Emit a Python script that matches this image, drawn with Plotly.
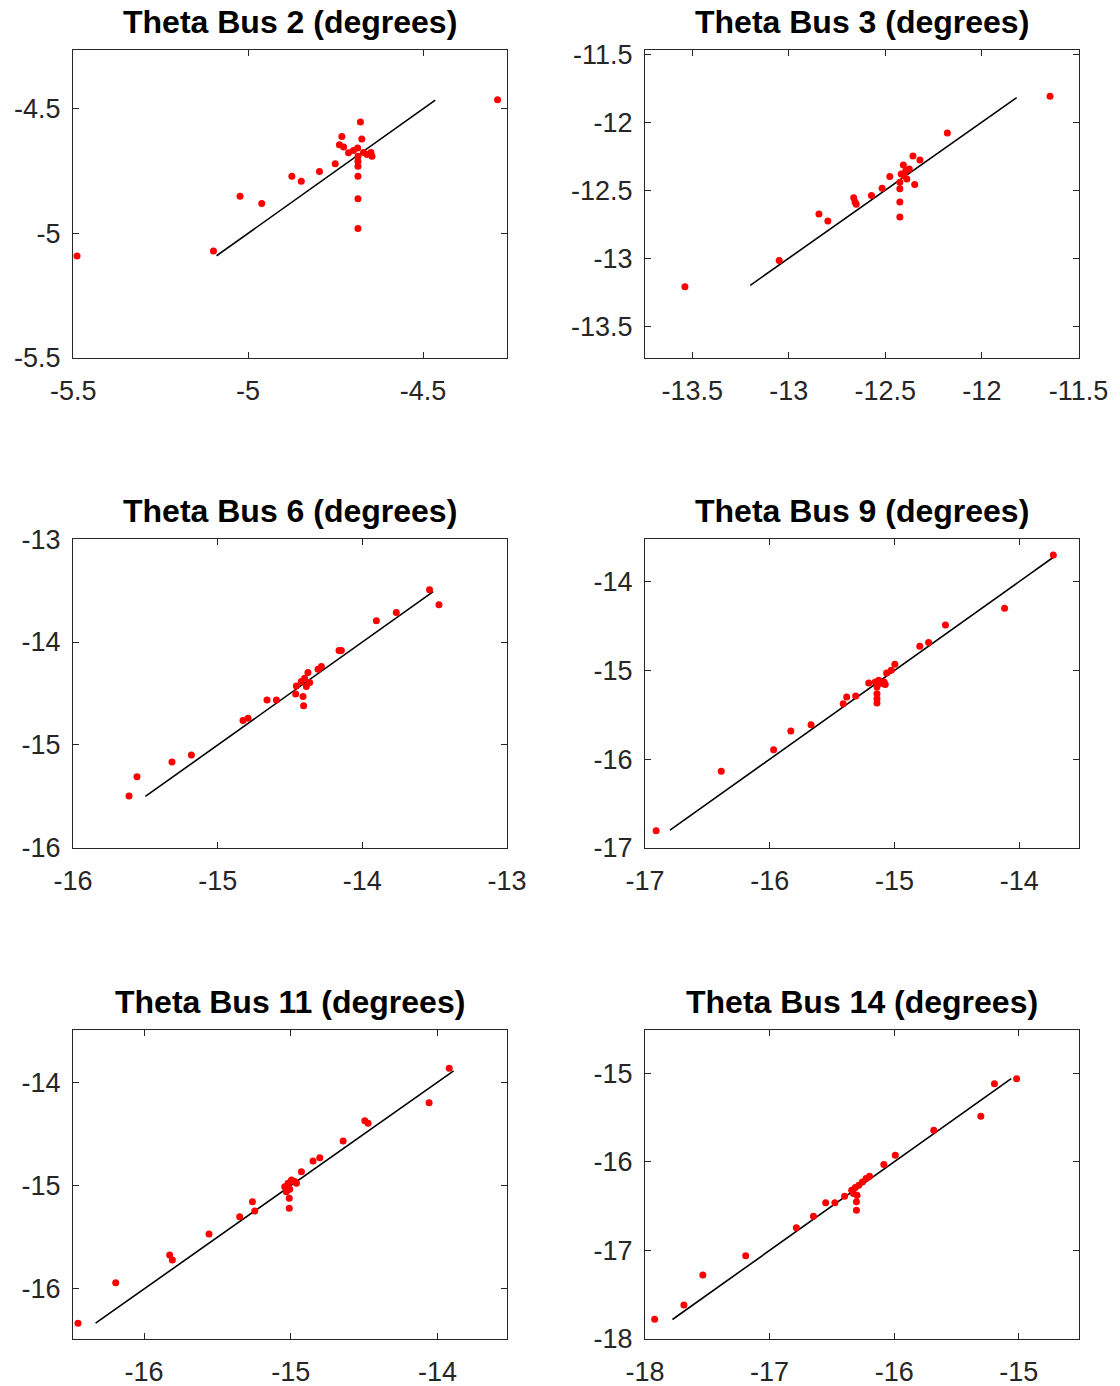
import plotly.graph_objects as go

# ---------------- data ----------------
titles = ["Theta Bus 2 (degrees)", "Theta Bus 3 (degrees)", "Theta Bus 6 (degrees)",
          "Theta Bus 9 (degrees)", "Theta Bus 11 (degrees)", "Theta Bus 14 (degrees)"]

bus2_x = [-5.489, -5.099, -5.023, -4.961, -4.875, -4.848, -4.796, -4.751, -4.732, -4.739,
          -4.727, -4.679, -4.675, -4.713, -4.699, -4.687, -4.670, -4.649, -4.646, -4.660,
          -4.686, -4.686, -4.686, -4.686, -4.686, -4.686, -4.287]
bus2_y = [-5.091, -5.071, -4.851, -4.880, -4.771, -4.791, -4.752, -4.721, -4.611, -4.644,
          -4.653, -4.553, -4.621, -4.677, -4.667, -4.657, -4.675, -4.675, -4.691, -4.684,
          -4.691, -4.711, -4.731, -4.771, -4.861, -4.981, -4.464]
bus2_fit = [-5.09, -4.465]

bus3_x = [-13.538, -13.05, -12.844, -12.798, -12.664, -12.657, -12.651, -12.572, -12.517,
          -12.477, -12.425, -12.425, -12.425, -12.425, -12.418, -12.407, -12.394, -12.389,
          -12.376, -12.403, -12.357, -12.348, -12.321, -12.179, -11.647]
bus3_y = [-13.21, -13.017, -12.676, -12.727, -12.556, -12.587, -12.604, -12.539, -12.486,
          -12.399, -12.587, -12.698, -12.49, -12.442, -12.382, -12.316, -12.357, -12.418,
          -12.345, -12.394, -12.249, -12.459, -12.278, -12.08, -11.81]
bus3_fit = [-13.2, -11.82]

bus6_x = [-15.613, -15.558, -15.316, -15.182, -14.825, -14.79, -14.659, -14.594, -14.456,
          -14.461, -14.41, -14.406, -14.422, -14.399, -14.376, -14.364, -14.387, -14.306,
          -14.283, -14.161, -14.145, -13.903, -13.765, -13.535, -13.47]
bus6_y = [-15.496, -15.308, -15.165, -15.097, -14.763, -14.74, -14.562, -14.562, -14.426,
          -14.504, -14.53, -14.62, -14.384, -14.352, -14.297, -14.394, -14.433, -14.264,
          -14.238, -14.083, -14.083, -13.794, -13.713, -13.493, -13.639]
bus6_fit = [-15.5, -13.51]

bus9_x = [-16.911, -16.389, -15.969, -15.831, -15.669, -15.411, -15.383, -15.311, -15.206,
          -15.154, -15.126, -15.097, -15.14, -15.083, -15.074, -15.14, -15.14, -15.14,
          -15.063, -15.026, -14.997, -14.797, -14.726, -14.591, -14.117, -13.726]
bus9_y = [-16.806, -16.136, -15.895, -15.684, -15.612, -15.375, -15.299, -15.288, -15.141,
          -15.13, -15.111, -15.149, -15.186, -15.13, -15.16, -15.262, -15.318, -15.367,
          -15.028, -14.998, -14.93, -14.727, -14.685, -14.49, -14.301, -13.699]
bus9_fit = [-16.8, -13.72]

bus11_x = [-16.45, -16.193, -15.825, -15.807, -15.557, -15.348, -15.261, -15.245, -15.041,
           -15.018, -14.995, -14.973, -14.961, -15.03, -15.007, -15.01, -15.01, -14.927,
           -14.848, -14.802, -14.643, -14.495, -14.473, -14.057, -13.92]
bus11_y = [-16.332, -15.939, -15.671, -15.719, -15.468, -15.3, -15.155, -15.245, -15.01,
           -14.977, -14.945, -14.961, -14.977, -15.058, -15.035, -15.123, -15.219, -14.865,
           -14.761, -14.729, -14.568, -14.371, -14.397, -14.197, -13.865]
bus11_fit = [-16.33, -13.89]

bus14_x = [-17.923, -17.688, -17.536, -17.192, -16.785, -16.648, -16.55, -16.476, -16.398,
           -16.341, -16.312, -16.284, -16.255, -16.327, -16.298, -16.303, -16.303, -16.226,
           -16.198, -16.083, -15.991, -15.682, -15.304, -15.195, -15.017]
bus14_y = [-17.778, -17.617, -17.278, -17.06, -16.744, -16.613, -16.462, -16.462, -16.387,
           -16.32, -16.29, -16.263, -16.226, -16.357, -16.376, -16.451, -16.545, -16.188,
           -16.162, -16.03, -15.925, -15.643, -15.485, -15.117, -15.06]
bus14_fit = [-17.78, -15.06]

bus2_ticks = [-5.5, -5, -4.5]
bus2_ticktext = ["-5.5", "-5", "-4.5"]
bus3_ticks = [-13.5, -13, -12.5, -12, -11.5]
bus3_ticktext = ["-13.5", "-13", "-12.5", "-12", "-11.5"]
bus6_ticks = [-16, -15, -14, -13]
bus6_ticktext = ["-16", "-15", "-14", "-13"]
bus9_ticks = [-17, -16, -15, -14]
bus9_ticktext = ["-17", "-16", "-15", "-14"]
bus11_ticks = [-16, -15, -14]
bus11_ticktext = ["-16", "-15", "-14"]
bus14_ticks = [-18, -17, -16, -15]
bus14_ticktext = ["-18", "-17", "-16", "-15"]

panels = [
    (bus2_x, bus2_y, bus2_fit, bus2_ticks, bus2_ticktext),
    (bus3_x, bus3_y, bus3_fit, bus3_ticks, bus3_ticktext),
    (bus6_x, bus6_y, bus6_fit, bus6_ticks, bus6_ticktext),
    (bus9_x, bus9_y, bus9_fit, bus9_ticks, bus9_ticktext),
    (bus11_x, bus11_y, bus11_fit, bus11_ticks, bus11_ticktext),
    (bus14_x, bus14_y, bus14_fit, bus14_ticks, bus14_ticktext),
]

# ---------------- layout geometry (styles) ----------------
W, H = 1120, 1386
col_px = [(73, 507), (645, 1079)]
row_px = [(50, 358), (539, 848), (1030, 1339)]
x_ranges = [[-5.5005, -4.26], [-13.745, -11.497], [-16.0005, -12.9995],
            [-17.0005, -13.52], [-16.484, -13.526], [-18.0005, -14.516]]
y_ranges = [[-5.5005, -4.264], [-13.734, -11.47], [-16.0005, -12.9995],
            [-17.0005, -13.52], [-16.484, -13.494], [-18.0005, -14.51]]

AX_COLOR = "#262626"
TICK_FONT = dict(family="Liberation Sans, Arial, sans-serif", size=27, color=AX_COLOR)

fig = go.Figure()
layout = dict(width=W, height=H, margin=dict(l=0, r=0, t=0, b=0, autoexpand=False),
              template="none",
              paper_bgcolor="white", plot_bgcolor="white", showlegend=False,
              annotations=[])

for i, (xs, ys, fit, tv, tt) in enumerate(panels):
    r, c = divmod(i, 2)
    n = "" if i == 0 else str(i + 1)
    xd = [col_px[c][0] / W, col_px[c][1] / W]
    yd = [1 - row_px[r][1] / H, 1 - row_px[r][0] / H]
    fig.add_trace(go.Scatter(x=fit, y=fit, mode="lines",
                             line=dict(color="black", width=1.6),
                             xaxis="x" + n, yaxis="y" + n, hoverinfo="skip"))
    fig.add_trace(go.Scatter(x=xs, y=ys, mode="markers",
                             marker=dict(color="#FF0000", size=7, line=dict(width=0)),
                             xaxis="x" + n, yaxis="y" + n))
    common = dict(showgrid=False, zeroline=False, showline=True, linecolor=AX_COLOR,
                  linewidth=1.2, mirror="ticks", ticks="inside", ticklen=6,
                  tickwidth=1.1, tickcolor=AX_COLOR, tickfont=TICK_FONT,
                  tickmode="array", tickvals=tv, ticktext=tt, automargin=False)
    layout["xaxis" + n] = dict(domain=xd, range=x_ranges[i], anchor="y" + n,
                               ticklabelstandoff=8, **common)
    layout["yaxis" + n] = dict(domain=yd, range=y_ranges[i], anchor="x" + n,
                               ticklabelstandoff=6, **common)
    layout["annotations"].append(dict(
        text="<b>" + titles[i] + "</b>", x=(xd[0] + xd[1]) / 2, y=yd[1],
        xref="paper", yref="paper", xanchor="center", yanchor="middle", yshift=28,
        showarrow=False,
        font=dict(family="Liberation Sans, Arial, sans-serif", size=32, color="black")))

fig.update_layout(**layout)
fig.write_html("out.html")
